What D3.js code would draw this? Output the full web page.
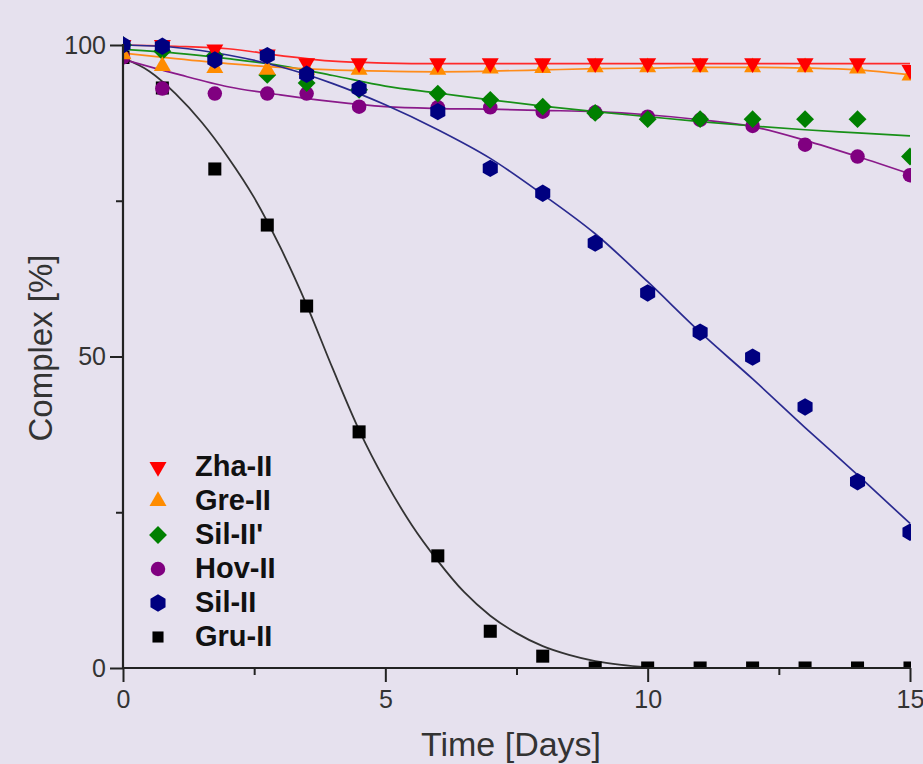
<!DOCTYPE html>
<html>
<head>
<meta charset="utf-8">
<script src="https://cdn.jsdelivr.net/npm/d3@7"></script>
<style>
html,body{margin:0;padding:0;background:rgb(230,225,238);}
svg{display:block;}
</style>
</head>
<body>
<svg id="chart" width="923" height="764"></svg>
<script>
// ---- data ----
const days = [0, 0.75, 1.75, 2.75, 3.5, 4.5, 6, 7, 8, 9, 10, 11, 12, 13, 14, 15];

const zhaII   = [100, 100, 99.3, 98.5, 97.1, 97.1, 97.1, 97.1, 97.1, 97.1, 97.1, 97.1, 97.1, 97.1, 97.1, 96];
const greII   = [98.5, 96.6, 96.3, 96, 96, 96, 96, 96.2, 96.3, 96.4, 96.4, 96.4, 96.4, 96.4, 96.2, 95.1];
const silIIp  = [100, 99, 98.3, 95.2, 93.9, 92.8, 92.2, 91.2, 90.1, 89.1, 88.1, 88.1, 88.1, 88.1, 88.1, 82.1];
const hovII   = [98, 93, 92.2, 92.2, 92.2, 90.1, 90, 90, 89.3, 89.2, 88.5, 88, 87, 84, 82.1, 79.1];
const silII   = [100, 99.8, 97.6, 98.3, 95.3, 93, 89.3, 80.2, 76.2, 68.2, 60.2, 53.9, 49.9, 41.9, 29.9, 21.8];
const gruII   = [98, 93.1, 80.1, 71.1, 58.1, 37.9, 18, 5.9, 1.9, 0, 0, 0, 0, 0, 0, 0];

// fitted curves
const fitDays = [0, 1, 2, 3, 4, 5, 6, 7, 8, 9, 10, 11, 12, 13, 14, 15];
const zhaFit  = [100, 99.8, 99.4, 98.3, 97.4, 97.1, 97.0, 97.0, 97.0, 97.0, 97.0, 97.0, 97.0, 97.0, 97.0, 97.0];
const greFit  = [98.7, 97.8, 97.0, 96.4, 96.0, 95.8, 95.7, 95.8, 96.0, 96.2, 96.3, 96.4, 96.4, 96.3, 96.0, 95.2];
const silpFit = [99.3, 98.7, 97.8, 96.7, 95.1, 93.4, 92.3, 91.2, 90.2, 89.3, 88.5, 87.7, 87.0, 86.4, 85.9, 85.4];
const hovFit  = [97.7, 95.4, 93.3, 92.0, 90.9, 90.1, 89.8, 89.7, 89.5, 89.3, 88.8, 88.0, 86.9, 84.7, 82.1, 79.3];
const silFit  = [100, 99.6, 98.4, 96.5, 93.8, 90.4, 86.4, 81.8, 76.0, 69.7, 62.0, 53.9, 46.4, 38.6, 31.0, 23.2];
const gruFitDays = [0, 0.5, 1, 1.5, 2, 2.5, 3, 3.5, 4, 4.5, 5, 5.5, 6, 6.5, 7, 7.5, 8, 8.5, 9, 9.5, 10];
const gruFit  = [97.9, 95.8, 92.2, 87.6, 82.0, 75.5, 67.5, 58.3, 48.0, 38.2, 30.0, 23.0, 17.2, 12.2, 8.4, 5.6, 3.5, 2.1, 1.1, 0.5, 0.1];

const seriesNames = ["Zha-II", "Gre-II", "Sil-II'", "Hov-II", "Sil-II", "Gru-II"];
const xTicks = [0, 5, 10, 15];
const xMinor = [2.5, 7.5, 12.5];
const yTicks = [0, 50, 100];
const yMinor = [25, 75];

// ---- layout ----
const svg = d3.select("#chart");
const L = 123, R = 910, T = 45, B = 668;
const x = d3.scaleLinear().domain([0, 15]).range([L, R]);
const y = d3.scaleLinear().domain([0, 100]).range([B, T]);

const hexPath = (r) => {
  const pts = d3.range(6).map(i => {
    const a = Math.PI / 180 * (60 * i - 90);
    return [r * Math.cos(a), r * Math.sin(a)];
  });
  return "M" + pts.map(p => p.join(",")).join("L") + "Z";
};
const shapes = {
  "Zha-II":  {color: "#ff0000", line: "#ff2a2a", path: d3.symbol().type(d3.symbolTriangle).size(125)(), rot: 180},
  "Gre-II":  {color: "#ff8c00", line: "#ff8c1a", path: d3.symbol().type(d3.symbolTriangle).size(125)(), rot: 0},
  "Sil-II'": {color: "#008000", line: "#189018", path: d3.symbol().type(d3.symbolSquare).size(160)(), rot: 45},
  "Hov-II":  {color: "#800080", line: "#8a1a8a", path: d3.symbol().type(d3.symbolCircle).size(165)(), rot: 0},
  "Sil-II":  {color: "#000080", line: "#2a2a90", path: hexPath(8.7), rot: 0},
  "Gru-II":  {color: "#000000", line: "#333333", path: d3.symbol().type(d3.symbolSquare).size(170)(), rot: 0}
};

const dataBy = {"Zha-II": zhaII, "Gre-II": greII, "Sil-II'": silIIp, "Hov-II": hovII, "Sil-II": silII, "Gru-II": gruII};
const fitBy = {
  "Zha-II": [fitDays, zhaFit], "Gre-II": [fitDays, greFit], "Sil-II'": [fitDays, silpFit],
  "Hov-II": [fitDays, hovFit], "Sil-II": [fitDays, silFit], "Gru-II": [gruFitDays, gruFit]
};

svg.append("defs").append("clipPath").attr("id", "plotclip")
  .append("rect").attr("x", L).attr("y", 0).attr("width", R - L + 1).attr("height", B);

const plot = svg.append("g").attr("clip-path", "url(#plotclip)");

const line = d3.line().x(d => x(d[0])).y(d => y(d[1])).curve(d3.curveMonotoneX);

const drawOrder = ["Gru-II", "Hov-II", "Sil-II'", "Gre-II", "Zha-II", "Sil-II"];
// lines
drawOrder.forEach(name => {
  const [tx, vy] = fitBy[name];
  plot.append("path")
    .datum(tx.map((t, i) => [t, vy[i]]))
    .attr("d", line)
    .attr("fill", "none")
    .attr("stroke", shapes[name].line)
    .attr("stroke-width", name === "Gru-II" ? 1.8 : 1.7);
});
// markers
drawOrder.forEach(name => {
  const s = shapes[name];
  plot.append("g").selectAll("path")
    .data(days.map((t, i) => [t, dataBy[name][i]]))
    .join("path")
    .attr("d", s.path)
    .attr("fill", s.color)
    .attr("transform", d => `translate(${x(d[0])},${y(d[1])}) rotate(${s.rot})`);
});

// ---- axes ----
const axColor = "#222";
const xAxis = svg.append("g").attr("transform", `translate(0,${B})`)
  .call(d3.axisBottom(x).tickValues(xTicks).tickSize(14).tickPadding(8).tickFormat(d3.format("d")));
const xMin = svg.append("g").attr("transform", `translate(0,${B})`)
  .call(d3.axisBottom(x).tickValues(xMinor).tickSize(7).tickFormat(""));
const yAxis = svg.append("g").attr("transform", `translate(${L},0)`)
  .call(d3.axisLeft(y).tickValues(yTicks).tickSize(13).tickPadding(4).tickFormat(d3.format("d")));
const yMin = svg.append("g").attr("transform", `translate(${L},0)`)
  .call(d3.axisLeft(y).tickValues(yMinor).tickSize(7).tickFormat(""));

[xAxis, xMin, yAxis, yMin].forEach(g => {
  g.select(".domain").remove();
  g.selectAll(".tick line").attr("stroke", axColor).attr("stroke-width", 2);
  g.selectAll(".tick text").attr("fill", "#333").attr("font-family", "Liberation Sans, Arial, sans-serif").attr("font-size", 25);
});
// axis lines
svg.append("line").attr("x1", L).attr("x2", L).attr("y1", T - 1).attr("y2", B + 1)
  .attr("stroke", axColor).attr("stroke-width", 2.2);
svg.append("line").attr("x1", L - 1).attr("x2", R + 1).attr("y1", B).attr("y2", B)
  .attr("stroke", axColor).attr("stroke-width", 2.2);

// axis titles
svg.append("text").attr("x", 511).attr("y", 756).attr("text-anchor", "middle")
  .attr("font-family", "Liberation Sans, Arial, sans-serif").attr("font-size", 34).attr("fill", "#333")
  .text("Time [Days]");
svg.append("text").attr("transform", "translate(52,348) rotate(-90)").attr("text-anchor", "middle")
  .attr("font-family", "Liberation Sans, Arial, sans-serif").attr("font-size", 33).attr("fill", "#333")
  .text("Complex [%]");

// ---- legend ----
const legend = svg.append("g");
seriesNames.forEach((name, i) => {
  const ry = 467 + i * 34;
  const s = shapes[name];
  legend.append("path").attr("d", s.path).attr("fill", s.color)
    .attr("transform", `translate(158,${ry}) rotate(${s.rot})${name === "Gru-II" ? " scale(0.85)" : ""}`);
  legend.append("text").attr("x", 195).attr("y", ry + 9)
    .attr("font-family", "Liberation Sans, Arial, sans-serif").attr("font-weight", "bold")
    .attr("font-size", 29).attr("fill", "#111").text(name);
});
</script>
</body>
</html>
